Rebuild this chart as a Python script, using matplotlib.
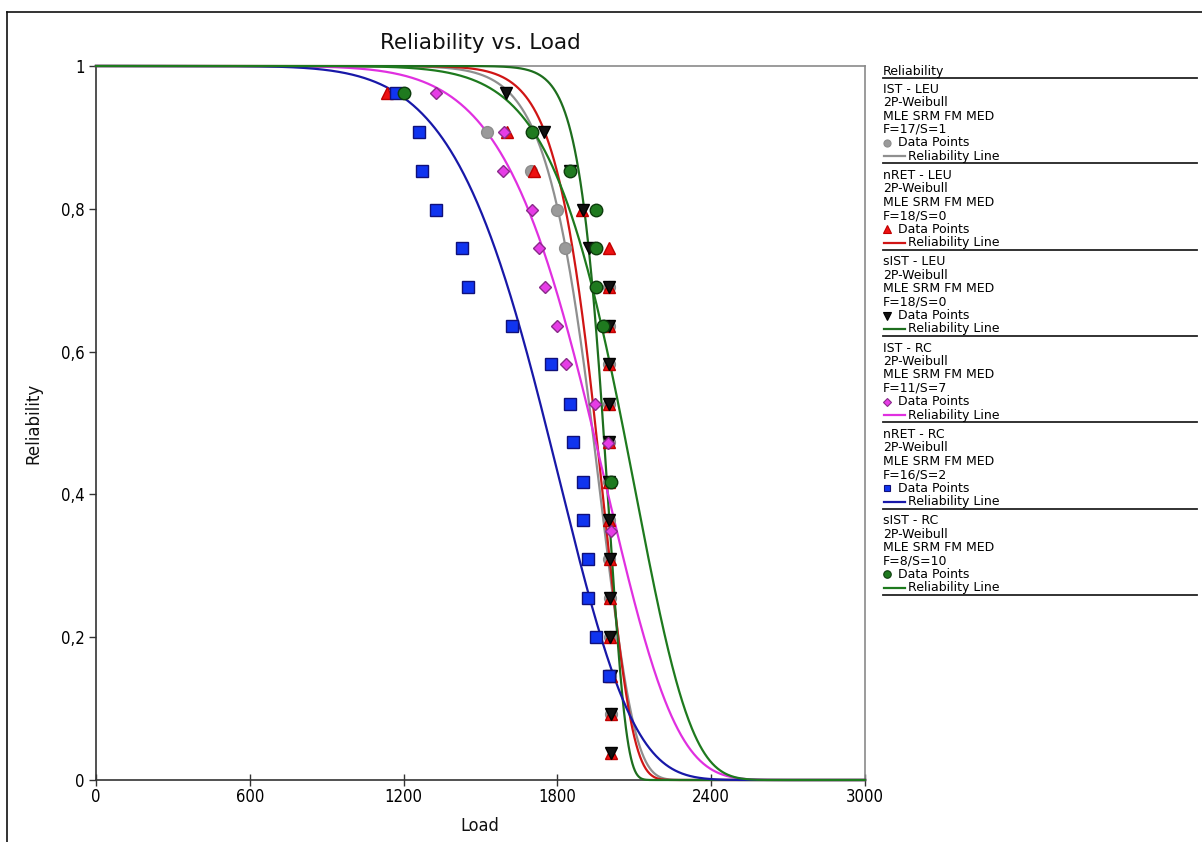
import numpy as np
import matplotlib

matplotlib.use("Agg")
import matplotlib.pyplot as plt

# reliability (median rank) rows
r_rows = [0.962, 0.908, 0.853, 0.799, 0.745, 0.690, 0.636, 0.582, 0.527,
          0.473, 0.418, 0.364, 0.310, 0.255, 0.200, 0.146, 0.092, 0.038]

# IST - LEU (gray circles), F=17/S=1
ist_leu_x = [1202, 1525, 1697, 1798, 1830, 2000, 2000, 2000, 2000, 2000,
             2000, 2000, 2000, 2005, 2005, 2005, 2008]
ist_leu_r = r_rows[:17]

# nRET - LEU (red triangles), F=18/S=0
nret_leu_x = [1135, 1603, 1709, 1896, 2001, 2001, 2000, 2000, 2000, 2000,
              2000, 2003, 2005, 2005, 2005, 2008, 2008, 2008]
nret_leu_r = r_rows

# sIST - LEU (black down triangles), F=18/S=0
sist_leu_x = [1600, 1748, 1849, 1900, 1923, 2001, 2000, 2000, 2000, 2000,
              2000, 2003, 2005, 2005, 2005, 2008, 2008, 2008]
sist_leu_r = r_rows

# IST - RC (magenta diamonds), F=11/S=7
ist_rc_x = [1326, 1592, 1588, 1701, 1728, 1752, 1798, 1834, 1947, 1997, 2009]
ist_rc_r = [0.962, 0.908, 0.853, 0.799, 0.745, 0.690, 0.636, 0.582, 0.527,
            0.472, 0.349]

# nRET - RC (blue squares), F=16/S=2
nret_rc_x = [1170, 1260, 1272, 1326, 1428, 1451, 1623, 1775, 1849, 1861,
             1900, 1900, 1919, 1919, 1951, 2001]
nret_rc_r = r_rows[:16]

# sIST - RC (green circles), F=8/S=10
sist_rc_x = [1202, 1701, 1849, 1951, 1951, 1951, 1978, 2009]
sist_rc_r = [0.962, 0.908, 0.853, 0.799, 0.745, 0.690, 0.636, 0.417]

# fitted 2P-Weibull parameters (beta, eta) estimated from the drawn lines
weibull = {
    "IST - LEU": (16.0, 1978),
    "nRET - LEU": (18.5, 1986),
    "sIST - LEU": (30.0, 2002),
    "IST - RC": (8.3, 2019),
    "nRET - RC": (7.2, 1844),
    "sIST - RC": (10.7, 2124),
}
fail_susp = {
    "IST - LEU": "F=17/S=1",
    "nRET - LEU": "F=18/S=0",
    "sIST - LEU": "F=18/S=0",
    "IST - RC": "F=11/S=7",
    "nRET - RC": "F=16/S=2",
    "sIST - RC": "F=8/S=10",
}

x_ticks = [0, 600, 1200, 1800, 2400, 3000]
y_ticks = [0, 0.2, 0.4, 0.6, 0.8, 1.0]
y_tick_labels = ["0", "0,2", "0,4", "0,6", "0,8", "1"]

series = [
    ("IST - LEU", ist_leu_x, ist_leu_r,
     dict(marker="o", ms=8.5, mfc="#9a9a9a", mec="#8c8c8c"), "#8f8f8f"),
    ("nRET - LEU", nret_leu_x, nret_leu_r,
     dict(marker="^", ms=8.5, mfc="#ee1111", mec="#c00000"), "#d01515"),
    ("sIST - LEU", sist_leu_x, sist_leu_r,
     dict(marker="v", ms=8.5, mfc="#111111", mec="#000000"), "#1e6e1e"),
    ("IST - RC", ist_rc_x, ist_rc_r,
     dict(marker="D", ms=6.5, mfc="#e63ce6", mec="#8a2a8a"), "#e030e0"),
    ("nRET - RC", nret_rc_x, nret_rc_r,
     dict(marker="s", ms=8.3, mfc="#1034f0", mec="#10107a"), "#1818a8"),
    ("sIST - RC", sist_rc_x, sist_rc_r,
     dict(marker="o", ms=9, mfc="#1f7a1f", mec="#0c3c0c"), "#1e7a1e"),
]

W, H = 1202, 842
fig = plt.figure(figsize=(W / 100, H / 100), dpi=100)

# overlay in pixel coordinates for frame, title, labels and legend
ov = fig.add_axes([0, 0, 1, 1])
ov.set_xlim(0, W)
ov.set_ylim(H, 0)
ov.axis("off")

ax = fig.add_axes([96 / W, 1 - 780 / H, (865 - 96) / W, (780 - 66) / H])
ax.set_xlim(0, 3000)
ax.set_ylim(0, 1)
ax.patch.set_alpha(0)

xs = np.linspace(0, 3000, 1201)
for name, px, pr, mk, lc in series:
    beta, eta = weibull[name]
    ax.plot(xs, np.exp(-(xs / eta) ** beta), color=lc, lw=1.6,
            zorder=3, clip_on=False)
for name, px, pr, mk, lc in series:
    ax.plot(px, pr, ls="none", mew=1, zorder=4, **mk)

ax.set_xticks(x_ticks)
ax.set_yticks(y_ticks)
ax.set_yticklabels(y_tick_labels)
for lab in ax.get_xticklabels() + ax.get_yticklabels():
    lab.set_family("DejaVu Sans")
    lab.set_stretch("condensed")
    lab.set_fontsize(12)
ax.tick_params(axis="x", direction="inout", length=8, width=1,
               color="#333333", pad=2)
ax.tick_params(axis="y", direction="out", length=5, width=1,
               color="#333333", pad=3)
for side in ("left", "bottom"):
    ax.spines[side].set_color("#333333")
for side in ("top", "right"):
    ax.spines[side].set_color("#8a8a8a")
for sp in ax.spines.values():
    sp.set_linewidth(1.2)

# outer frame
ov.plot([7, 7], [H, 12], color="#111111", lw=1.2)
ov.plot([7, W], [12, 12], color="#111111", lw=1.2)

ov.text(480, 43, "Reliability vs. Load", ha="center", va="center",
        fontsize=15.5, color="#111111")
ov.text(480, 826, "Load", ha="center", va="center", fontsize=13,
        fontstretch="condensed", color="#111111")
ov.text(33, 423, "Reliability", ha="center", va="center", rotation=90,
        fontsize=12, color="#111111")

# legend
lx = 883
ov.text(lx, 71, "Reliability", ha="left", va="center", fontsize=9)
ov.plot([lx, 1197], [78.3, 78.3], color="#222222", lw=1.3)
for k, (name, px, pr, mk, lc) in enumerate(series):
    base = 89.3 + 86.3 * k
    lines = [name, "2P-Weibull", "MLE SRM FM MED", fail_susp[name]]
    for j, t in enumerate(lines):
        ov.text(lx, base + 13.4 * j, t, ha="left", va="center", fontsize=9)
    small = dict(mk)
    small["ms"] = mk["ms"] * 0.6
    ov.plot([887], [base + 13.4 * 4], ls="none", mew=0.8, **small)
    ov.text(898, base + 13.4 * 4, "Data Points", ha="left", va="center",
            fontsize=9)
    ov.plot([884, 905], [base + 13.4 * 5] * 2, color=lc, lw=1.6)
    ov.text(908, base + 13.4 * 5, "Reliability Line", ha="left",
            va="center", fontsize=9)
    ov.plot([lx, 1197], [base + 74, base + 74], color="#222222", lw=1.3)

fig.savefig("out.png", dpi=100)
plt.close(fig)
